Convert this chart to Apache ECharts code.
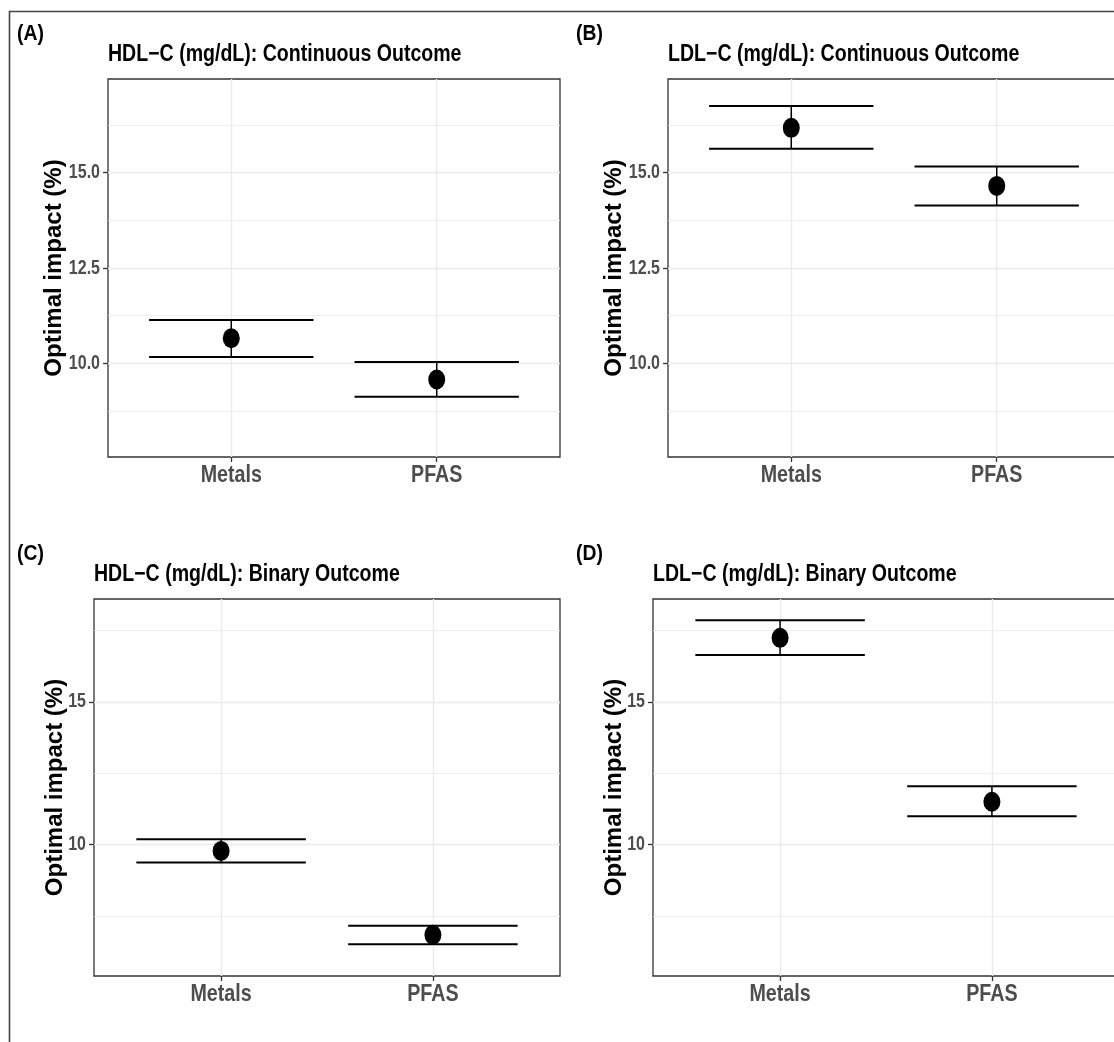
<!DOCTYPE html>
<html>
<head>
<meta charset="utf-8">
<script src="https://cdn.jsdelivr.net/npm/echarts@6/dist/echarts.min.js"></script>
<style>
  html, body { margin: 0; padding: 0; background: #fff; }
  #chart { width: 1114px; height: 1042px; }
</style>
</head>
<body>
<div id="chart"></div>
<script>
// --- data ---
const categories = ['Metals', 'PFAS'];

// HDL-C continuous
const hdlContMid = [10.66, 9.58];
const hdlContLow = [10.17, 9.13];
const hdlContHigh = [11.14, 10.04];
// LDL-C continuous
const ldlContMid = [16.17, 14.65];
const ldlContLow = [15.62, 14.14];
const ldlContHigh = [16.74, 15.16];
// HDL-C binary
const hdlBinMid = [9.78, 6.84];
const hdlBinLow = [9.37, 6.51];
const hdlBinHigh = [10.19, 7.16];
// LDL-C binary
const ldlBinMid = [17.24, 11.50];
const ldlBinLow = [16.64, 10.99];
const ldlBinHigh = [17.86, 12.04];

// y ticks
const contTicks = [10, 12.5, 15];
const contMinor = [8.75, 11.25, 13.75, 16.25];
const binTicks = [10, 15];
const binMinor = [7.5, 12.5, 17.5];

// no narrow face installed, so condensed text is squeezed with scaleX
const font = '"Liberation Sans", Arial, sans-serif';

// --- panel layout ---
const panels = [
    { tag: '(A)', title: 'HDL−C (mg/dL): Continuous Outcome', mid: hdlContMid, low: hdlContLow, high: hdlContHigh,
      grid: { left: 108, top: 79, width: 452, height: 378 }, yMin: 7.55, yMax: 17.45,
      ticks: contTicks, minor: contMinor, dec: 1, nameGap: 42, tagXY: [17, 34], titleXY: [108, 55] },
    { tag: '(B)', title: 'LDL−C (mg/dL): Continuous Outcome', mid: ldlContMid, low: ldlContLow, high: ldlContHigh,
      grid: { left: 668, top: 79, right: -6, height: 378 }, yMin: 7.55, yMax: 17.45,
      ticks: contTicks, minor: contMinor, dec: 1, nameGap: 42, tagXY: [576, 34], titleXY: [668, 55] },
    { tag: '(C)', title: 'HDL−C (mg/dL): Binary Outcome', mid: hdlBinMid, low: hdlBinLow, high: hdlBinHigh,
      grid: { left: 94, top: 599, width: 466, height: 377 }, yMin: 5.4, yMax: 18.6,
      ticks: binTicks, minor: binMinor, dec: 0, nameGap: 27, tagXY: [17, 554], titleXY: [94, 575] },
    { tag: '(D)', title: 'LDL−C (mg/dL): Binary Outcome', mid: ldlBinMid, low: ldlBinLow, high: ldlBinHigh,
      grid: { left: 653, top: 599, right: -5, height: 377 }, yMin: 5.4, yMax: 18.6,
      ticks: binTicks, minor: binMinor, dec: 0, nameGap: 27, tagXY: [576, 554], titleXY: [653, 575] }
];

const grids = [], xAxes = [], yAxes = [], series = [], graphics = [];

// outer frame
graphics.push({
    type: 'rect', z: 100,
    shape: { x: 9.5, y: 11.5, width: 1300, height: 1200 },
    style: { fill: 'none', stroke: '#444', lineWidth: 1.6 }
});

panels.forEach((p, i) => {
    grids.push(Object.assign({
        show: true, borderColor: '#333', borderWidth: 1.3, backgroundColor: 'transparent',
        outerBoundsMode: 'none', containLabel: false
    }, p.grid));

    xAxes.push({
        type: 'value', gridIndex: i, min: 0.4, max: 2.6,
        axisLine: { show: false },
        axisTick: { show: true, length: 5, customValues: [1, 2], lineStyle: { color: '#333', width: 1.3 } },
        axisLabel: { show: false },
        splitLine: { show: true, lineStyle: { color: '#ebebeb', width: 1.4 } }
    });

    // major y axis
    yAxes.push({
        type: 'value', gridIndex: i, min: p.yMin, max: p.yMax,
        axisLine: { show: false },
        axisTick: { show: true, length: 5, customValues: p.ticks, lineStyle: { color: '#333', width: 1.3 } },
        axisLabel: { show: false },
        splitLine: { show: true, lineStyle: { color: '#ebebeb', width: 1.4 } },
        name: 'Optimal impact (%)', nameLocation: 'middle', nameGap: p.nameGap,
        nameTextStyle: { color: '#000', fontSize: 24, fontWeight: 'bold', fontFamily: font }
    });
    // minor grid lines only
    yAxes.push({
        type: 'value', gridIndex: i, min: p.yMin, max: p.yMax, position: 'left',
        axisLine: { show: false },
        axisTick: { show: false, customValues: p.minor },
        axisLabel: { show: false },
        splitLine: { show: true, lineStyle: { color: '#ebebeb', width: 0.8 } }
    });

    // error bars
    series.push({
        type: 'custom', xAxisIndex: i, yAxisIndex: i * 2, z: 3,
        data: categories.map((c, k) => [k + 1, p.low[k], p.high[k]]),
        encode: { x: 0, y: [1, 2] },
        renderItem: (params, api) => {
            const x = api.value(0), lo = api.value(1), hi = api.value(2);
            const a = api.coord([x, lo]), b = api.coord([x, hi]);
            const l1 = api.coord([x - 0.4, lo]), r1 = api.coord([x + 0.4, lo]);
            const l2 = api.coord([x - 0.4, hi]), r2 = api.coord([x + 0.4, hi]);
            const st = w => ({ stroke: '#000', lineWidth: w });
            return {
                type: 'group',
                children: [
                    { type: 'line', shape: { x1: a[0], y1: a[1], x2: b[0], y2: b[1] }, style: st(1.5) },
                    { type: 'line', shape: { x1: l1[0], y1: l1[1], x2: r1[0], y2: r1[1] }, style: st(2) },
                    { type: 'line', shape: { x1: l2[0], y1: l2[1], x2: r2[0], y2: r2[1] }, style: st(2) }
                ]
            };
        }
    });

    // point estimates
    series.push({
        type: 'scatter', xAxisIndex: i, yAxisIndex: i * 2, z: 4,
        symbol: 'path://M0,-10A10,10,0,1,1,0,10A10,10,0,1,1,0,-10Z',
        symbolSize: [17, 20],
        itemStyle: { color: '#000', opacity: 1 },
        data: categories.map((c, k) => [k + 1, p.mid[k]])
    });

    graphics.push({
        type: 'text', x: p.tagXY[0], y: p.tagXY[1], scaleX: 0.88,
        style: { text: p.tag, fill: '#000', fontSize: 22, fontWeight: 'bold', fontFamily: font, align: 'left', verticalAlign: 'middle' }
    });
    graphics.push({
        type: 'text', x: p.titleXY[0], y: p.titleXY[1], scaleX: 0.85,
        style: { text: p.title, fill: '#000', fontSize: 23, fontWeight: 'bold', fontFamily: font, align: 'left', verticalAlign: 'middle' }
    });
});

const chart = echarts.init(document.getElementById('chart'));
chart.setOption({
    animation: false,
    backgroundColor: '#fff',
    grid: grids,
    xAxis: xAxes,
    yAxis: yAxes,
    series: series
});

// tick labels, placed through the axes' own scales
panels.forEach((p, i) => {
    const finder = { xAxisIndex: i, yAxisIndex: i * 2 };
    p.ticks.forEach(v => {
        const pt = chart.convertToPixel(finder, [0.4, v]);
        graphics.push({
            type: 'text', x: pt[0] - 8, y: pt[1], scaleX: 0.8,
            style: { text: v.toFixed(p.dec), fill: '#4d4d4d', fontSize: 20, fontWeight: 'bold', fontFamily: font, align: 'right', verticalAlign: 'middle' }
        });
    });
    categories.forEach((c, k) => {
        const pt = chart.convertToPixel(finder, [k + 1, p.yMin]);
        graphics.push({
            type: 'text', x: pt[0], y: pt[1] + 18, scaleX: 0.82,
            style: { text: c, fill: '#4d4d4d', fontSize: 24, fontWeight: 'bold', fontFamily: font, align: 'center', verticalAlign: 'middle' }
        });
    });
});

chart.setOption({ graphic: graphics });
</script>
</body>
</html>
